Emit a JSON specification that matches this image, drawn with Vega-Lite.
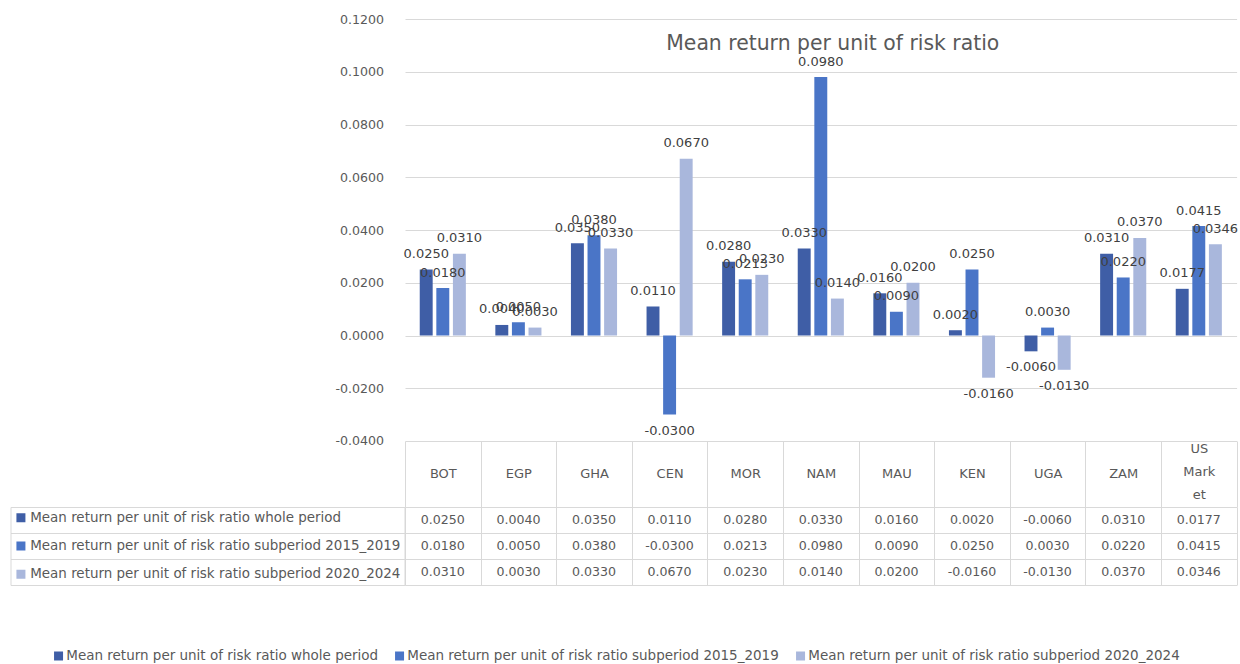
{
  "$schema": "https://vega.github.io/schema/vega-lite/v6.json",
  "autosize": {"type": "pad"},
  "padding": {"left": 10, "top": 13, "right": 4, "bottom": 2},
  "background": "white",
  "config": {
    "view": {"stroke": null},
    "font": "DejaVu Sans",
    "locale": {"number": {"decimal": ".", "thousands": ",", "grouping": [3], "currency": ["$", ""], "minus": "-"}}
  },
  "data": {"values": [
    {"country": "BOT", "series": "Mean return per unit of risk ratio whole period", "value": 0.025},
    {"country": "EGP", "series": "Mean return per unit of risk ratio whole period", "value": 0.004},
    {"country": "GHA", "series": "Mean return per unit of risk ratio whole period", "value": 0.035},
    {"country": "CEN", "series": "Mean return per unit of risk ratio whole period", "value": 0.011},
    {"country": "MOR", "series": "Mean return per unit of risk ratio whole period", "value": 0.028},
    {"country": "NAM", "series": "Mean return per unit of risk ratio whole period", "value": 0.033},
    {"country": "MAU", "series": "Mean return per unit of risk ratio whole period", "value": 0.016},
    {"country": "KEN", "series": "Mean return per unit of risk ratio whole period", "value": 0.002},
    {"country": "UGA", "series": "Mean return per unit of risk ratio whole period", "value": -0.006},
    {"country": "ZAM", "series": "Mean return per unit of risk ratio whole period", "value": 0.031},
    {"country": "US Market", "series": "Mean return per unit of risk ratio whole period", "value": 0.0177},
    {"country": "BOT", "series": "Mean return per unit of risk ratio subperiod 2015_2019", "value": 0.018},
    {"country": "EGP", "series": "Mean return per unit of risk ratio subperiod 2015_2019", "value": 0.005},
    {"country": "GHA", "series": "Mean return per unit of risk ratio subperiod 2015_2019", "value": 0.038},
    {"country": "CEN", "series": "Mean return per unit of risk ratio subperiod 2015_2019", "value": -0.03},
    {"country": "MOR", "series": "Mean return per unit of risk ratio subperiod 2015_2019", "value": 0.0213},
    {"country": "NAM", "series": "Mean return per unit of risk ratio subperiod 2015_2019", "value": 0.098},
    {"country": "MAU", "series": "Mean return per unit of risk ratio subperiod 2015_2019", "value": 0.009},
    {"country": "KEN", "series": "Mean return per unit of risk ratio subperiod 2015_2019", "value": 0.025},
    {"country": "UGA", "series": "Mean return per unit of risk ratio subperiod 2015_2019", "value": 0.003},
    {"country": "ZAM", "series": "Mean return per unit of risk ratio subperiod 2015_2019", "value": 0.022},
    {"country": "US Market", "series": "Mean return per unit of risk ratio subperiod 2015_2019", "value": 0.0415},
    {"country": "BOT", "series": "Mean return per unit of risk ratio subperiod 2020_2024", "value": 0.031},
    {"country": "EGP", "series": "Mean return per unit of risk ratio subperiod 2020_2024", "value": 0.003},
    {"country": "GHA", "series": "Mean return per unit of risk ratio subperiod 2020_2024", "value": 0.033},
    {"country": "CEN", "series": "Mean return per unit of risk ratio subperiod 2020_2024", "value": 0.067},
    {"country": "MOR", "series": "Mean return per unit of risk ratio subperiod 2020_2024", "value": 0.023},
    {"country": "NAM", "series": "Mean return per unit of risk ratio subperiod 2020_2024", "value": 0.014},
    {"country": "MAU", "series": "Mean return per unit of risk ratio subperiod 2020_2024", "value": 0.02},
    {"country": "KEN", "series": "Mean return per unit of risk ratio subperiod 2020_2024", "value": -0.016},
    {"country": "UGA", "series": "Mean return per unit of risk ratio subperiod 2020_2024", "value": -0.013},
    {"country": "ZAM", "series": "Mean return per unit of risk ratio subperiod 2020_2024", "value": 0.037},
    {"country": "US Market", "series": "Mean return per unit of risk ratio subperiod 2020_2024", "value": 0.0346}
  ]},
  "spacing": 66,
  "bounds": "flush",
  "resolve": {
    "scale": {"x": "independent", "y": "independent"},
    "legend": {"color": "independent"}
  },
  "vconcat": [
    {
      "width": 831.6,
      "height": 422,
      "title": {"text": "Mean return per unit of risk ratio", "frame": "group", "anchor": "middle", "offset": -57, "baseline": "alphabetic", "dx": 12, "fontSize": 20.4, "fontWeight": "normal", "color": "#595959", "font": "DejaVu Sans"},
      "encoding": {
        "x": {"field": "country", "type": "nominal", "sort": ["BOT", "EGP", "GHA", "CEN", "MOR", "NAM", "MAU", "KEN", "UGA", "ZAM", "US Market"], "scale": {"paddingInner": 0.39, "paddingOuter": 0.195}, "axis": null},
        "xOffset": {"field": "series", "type": "nominal", "sort": ["Mean return per unit of risk ratio whole period", "Mean return per unit of risk ratio subperiod 2015_2019", "Mean return per unit of risk ratio subperiod 2020_2024"], "scale": {"paddingInner": 0.22, "paddingOuter": 0}},
        "y": {"field": "value", "type": "quantitative", "scale": {"domain": [-0.04, 0.12], "nice": false, "zero": false},
          "axis": {"title": null, "values": [-0.04, -0.02, 0, 0.02, 0.04, 0.06, 0.08, 0.1, 0.12], "format": ".4f", "domain": false, "ticks": false, "tickSize": 0, "labelPadding": 21.5, "labelFontSize": 12.6, "labelColor": "#595959", "gridColor": "#d9d9d9", "gridWidth": 1}}
      },
      "layer": [
        {
          "mark": {"type": "bar"},
          "encoding": {
            "color": {"field": "series", "type": "nominal",
              "scale": {"domain": ["Mean return per unit of risk ratio whole period", "Mean return per unit of risk ratio subperiod 2015_2019", "Mean return per unit of risk ratio subperiod 2020_2024"], "range": ["#3F5EA6", "#4A75C7", "#A9B7DC"]},
              "legend": {"title": null, "orient": "none", "legendX": -353.2, "legendY": 630, "direction": "horizontal", "columns": 3, "columnPadding": 14, "symbolType": "square", "symbolSize": 81, "symbolStrokeWidth": 0, "labelOffset": 1, "labelLimit": 0, "labelFontSize": 13.5, "labelColor": "#595959", "clipHeight": 14}}
          }
        },
        {
          "transform": [{"filter": "datum.value >= 0"}],
          "mark": {"type": "text", "baseline": "alphabetic", "dy": -11.5, "fontSize": 13, "color": "#404040"},
          "encoding": {"text": {"field": "value", "type": "quantitative", "format": ".4f"}}
        },
        {
          "transform": [{"filter": "datum.value < 0"}],
          "mark": {"type": "text", "baseline": "top", "dy": 10, "fontSize": 13, "color": "#404040"},
          "encoding": {"text": {"field": "value", "type": "quantitative", "format": ".4f"}}
        }
      ]
    },
    {
      "width": 831.6,
      "height": 78,
      "encoding": {
        "x": {"field": "country", "type": "nominal", "sort": ["BOT", "EGP", "GHA", "CEN", "MOR", "NAM", "MAU", "KEN", "UGA", "ZAM", "US Market"], "scale": {"paddingInner": 0, "paddingOuter": 0},
          "axis": {"orient": "top", "title": null, "domain": false, "ticks": true, "tickBand": "extent", "tickSize": 66, "tickColor": "#d9d9d9", "tickWidth": 1, "grid": true, "gridColor": "#d9d9d9",
            "labelPadding": {"condition": {"test": "datum.value == 'US Market'", "value": -7.5}, "value": -33},
            "labelBaseline": "middle", "labelAngle": 0, "labelOverlap": false, "labelFontSize": 13, "labelColor": "#595959", "labelLineHeight": 23,
            "labelExpr": "datum.value == 'US Market' ? ['US', 'Mark', 'et'] : datum.value"}},
        "y": {"field": "series", "type": "nominal", "sort": ["Mean return per unit of risk ratio whole period", "Mean return per unit of risk ratio subperiod 2015_2019", "Mean return per unit of risk ratio subperiod 2020_2024"], "scale": {"paddingInner": 0, "paddingOuter": 0},
          "axis": {"title": null, "labels": false, "domain": false, "ticks": true, "tickBand": "extent", "tickSize": 394.5, "tickColor": "#d9d9d9", "tickWidth": 1, "grid": true, "gridColor": "#d9d9d9"}}
      },
      "layer": [
        {
          "mark": {"type": "text", "fontSize": 12.6, "color": "#595959"},
          "encoding": {"text": {"field": "value", "type": "quantitative", "format": ".4f"}}
        },
        {
          "mark": {"type": "text"},
          "encoding": {
            "text": {"value": ""},
            "color": {"field": "series", "type": "nominal",
              "scale": {"domain": ["Mean return per unit of risk ratio whole period", "Mean return per unit of risk ratio subperiod 2015_2019", "Mean return per unit of risk ratio subperiod 2020_2024"], "range": ["#3F5EA6", "#4A75C7", "#A9B7DC"]},
              "legend": {"title": null, "orient": "none", "legendX": -394.5, "legendY": 0, "direction": "vertical", "symbolType": "square", "symbolSize": 81, "symbolStrokeWidth": 0, "labelOffset": 2.6, "labelLimit": 0, "labelFontSize": 13.45, "labelColor": "#595959", "rowPadding": 14.3, "clipHeight": 14, "padding": 3.7, "strokeColor": "#d9d9d9"}}
          }
        }
      ]
    }
  ]
}
